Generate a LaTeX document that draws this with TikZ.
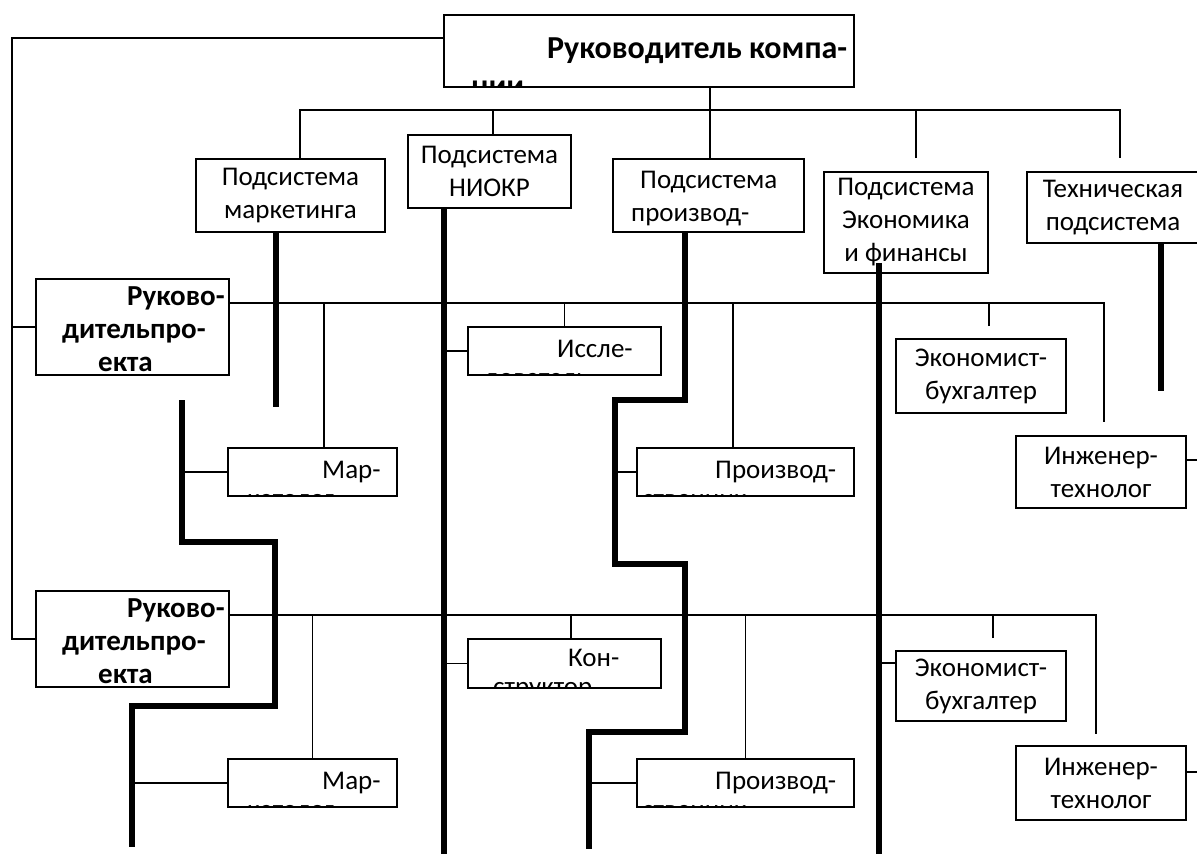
\documentclass[tikz,border=0pt]{standalone}
\usepackage{fontspec}
\setmainfont{Carlito}
\usetikzlibrary{calc}

\tikzset{
  box/.style={draw, line width=1.8pt, inner sep=0pt, align=center,
    font=\fontsize{27}{33}\selectfont, execute at begin node={\rule{0pt}{23pt}}},
  cut/.style={inner sep=0pt, align=left, anchor=north west,
    font=\fontsize{27}{28.5}\selectfont},
  link/.style={line width=1.6pt},
  bar/.style={line width=6pt},
}

\begin{document}
\begin{tikzpicture}[x=1pt, y=-1pt]
  \useasboundingbox (0,0) rectangle (1197,854);

  % head of company
  \node[box, minimum width=410, minimum height=72] (ceo) at (649,51) {};
  \begin{scope}
    \clip (ceo.north west) rectangle (ceo.south east);
    \node[cut, font=\bfseries\fontsize{32}{38}\selectfont] (ceotxt) at (471,38)
      {\hspace*{76pt}Руководитель компа-\\нии};
  \end{scope}

  % subsystems
  \node[box, minimum width=189, minimum height=73] (mkt) at (290.5,195.5) {Подсистема\\маркетинга};
  \node[box, minimum width=163, minimum height=73] (rnd) at (489.5,171.5) {Подсистема\\НИОКР};
  \node[box, minimum width=191, minimum height=73] (prod) at (708.5,195.5) {};
  \node[cut, font=\fontsize{27}{33}\selectfont] (prodtxt) at (631,171) {\hspace*{9pt}Подсистема\\производ-};
  \node[box, minimum width=164, minimum height=101] (fin) at (906,222.5) {Подсистема\\Экономика\\и финансы};
  \node[box, minimum width=172, minimum height=71] (tech) at (1113,207.5) {Техническая\\подсистема};

  % project managers
  \foreach \i/\y in {1/327, 2/639} {
    \node[box, minimum width=193, minimum height=96] (pm\i) at (132.5,\y) {};
    \node[cut, font=\bfseries\fontsize{29}{33}\selectfont] (pm\i txt) at (62,\y-41)
      {\hspace*{65pt}Руково-\\дительпро-\\\hspace*{36pt}екта};
  }

  % staff, first row
  \node[box, minimum width=169, minimum height=48] (mar1) at (312.5,472) {};
  \node[box, minimum width=193, minimum height=48] (res) at (564.5,351) {};
  \node[box, minimum width=217, minimum height=48] (pr1) at (745.5,472) {};
  \node[box, minimum width=170, minimum height=74] (eco1) at (981,376) {Экономист-\\бухгалтер};
  \node[box, minimum width=170, minimum height=72] (eng1) at (1101,472) {Инженер-\\технолог};

  % staff, second row
  \node[box, minimum width=169, minimum height=48] (mar2) at (312.5,783) {};
  \node[box, minimum width=193, minimum height=49] (con) at (564.5,663.5) {};
  \node[box, minimum width=217, minimum height=48] (pr2) at (745.5,783) {};
  \node[box, minimum width=170, minimum height=70] (eco2) at (981,686) {Экономист-\\бухгалтер};
  \node[box, minimum width=170, minimum height=74] (eng2) at (1101,783) {Инженер-\\технолог};

  % clipped labels
  \begin{scope}
    \clip (mar1.north west) rectangle (mar1.south east);
    \node[cut] (mar1txt) at (247,461) {\hspace*{75pt}Мар-\\кетолог};
  \end{scope}
  \begin{scope}
    \clip (mar2.north west) rectangle (mar2.south east);
    \node[cut] (mar2txt) at (247,772) {\hspace*{75pt}Мар-\\кетолог};
  \end{scope}
  \begin{scope}
    \clip (res.north west) rectangle (res.south east);
    \node[cut] (restxt) at (484,340) {\hspace*{73pt}Иссле-\\дователь};
  \end{scope}
  \begin{scope}
    \clip (con.north west) rectangle (con.south east);
    \node[cut] (contxt) at (493,649) {\hspace*{75pt}Кон-\\структор};
  \end{scope}
  \begin{scope}
    \clip (pr1.north west) rectangle (pr1.south east);
    \node[cut] (pr1txt) at (642,461) {\hspace*{73pt}Производ-\\ственник};
  \end{scope}
  \begin{scope}
    \clip (pr2.north west) rectangle (pr2.south east);
    \node[cut] (pr2txt) at (642,772) {\hspace*{73pt}Производ-\\ственник};
  \end{scope}

  % top bus
  \draw[link] ([xshift=9.5pt]mkt.north) -- ++(0,-48) -| ([xshift=7pt,yshift=13pt]tech.north);
  \draw[link] ([xshift=3.5pt]rnd.north) -- ++(0,-24);
  \draw[link] ([xshift=1.5pt]prod.north) -- ([xshift=1.5pt]prod.north |- ceo.south);
  \draw[link] ([xshift=10pt,yshift=13pt]fin.north) -- ++(0,-48);

  % line to project managers
  \draw[link] ([yshift=13pt]ceo.west) -| ([xshift=-23pt]pm2.west) -- (pm2.west);
  \draw[link] ([xshift=-23pt]pm1.west) -- (pm1.west);

  % project buses
  \coordinate (bus1) at ([yshift=24pt]pm1.east);
  \coordinate (bus2) at ([yshift=24pt]pm2.east);
  \draw[link] (bus1) -| ([xshift=3pt,yshift=13pt]eng1.north);
  \draw[link] ([xshift=11.5pt]mar1.north) |- (bus1);
  \draw[link] (res.north) |- (bus1);
  \draw[link] ([xshift=-12.5pt]pr1.north) |- (bus1);
  \draw[link] ([xshift=8pt,yshift=12pt]eco1.north) |- (bus1);
  \draw[link] (bus2) -| ([xshift=-5pt,yshift=11pt]eng2.north);
  \draw[link] (mar2.north) |- (bus2);
  \draw[link] ([xshift=6.5pt]con.north) |- (bus2);
  \draw[link] (pr2.north) |- (bus2);
  \draw[link] ([xshift=12pt,yshift=12pt]eco2.north) |- (bus2);

  % thick lines
  \draw[bar] ([xshift=-14.5pt]mkt.south) -- ++(0,174);
  \draw[bar] (182,400) -- (182,542) -- (275,542) -- (275,706) -- (132,706) -- (132,847);
  \draw[bar] ([xshift=-45.5pt]rnd.south) -- ++(0,646);
  \draw[bar] ([xshift=-23.5pt]prod.south) -- ++(0,167) -- ++(-70,0) -- ++(0,164)
    -- ++(70,0) -- ++(0,168) -- ++(-96,0) -- ++(0,117);
  \draw[bar] ([xshift=-27pt,yshift=11pt]fin.south) -- ++(0,592);
  \draw[bar] ([xshift=47.5pt]tech.south) -- ++(0,147);

  % staff links
  \draw[link] (mar1.west) -- ++(-46,0);
  \draw[link] (mar2.west) -- ++(-96,0);
  \draw[link] (res.west) -- ++(-24,0);
  \draw[link] (con.west) -- ++(-24,0);
  \draw[link] (pr1.west) -- ++(-22,0);
  \draw[link] (pr2.west) -- ++(-48,0);
  \draw[link] ([yshift=23pt]eco2.west) -- ++(-17,0);
  \draw[link] ([yshift=12pt]eng1.east) -- ++(15,0);
  \draw[link] ([yshift=11pt]eng2.east) -- ++(15,0);
\end{tikzpicture}
\end{document}
